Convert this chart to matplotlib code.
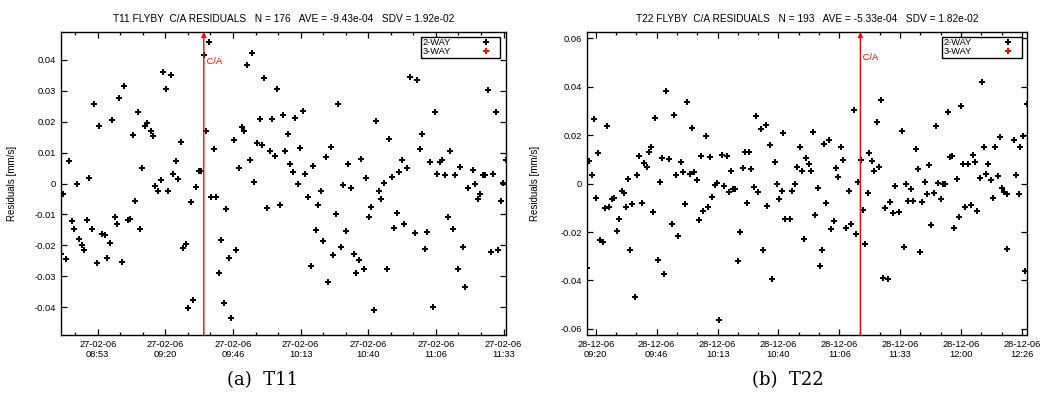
import math
import numpy as np
import matplotlib
matplotlib.use('Agg')
import matplotlib.pyplot as plt
from matplotlib.lines import Line2D
from matplotlib.ticker import MultipleLocator, AutoMinorLocator, FuncFormatter

# T11 flyby, 27-02-06: minutes after 08:00, residual [mm/s]
t11_min = [38.87, 39.79, 40.97, 42.02, 43.07, 44.13, 45.05, 46.10, 47.15, 48.07,
           49.12, 50.04, 51.23, 52.02, 53.07, 54.00, 55.17, 56.23, 57.15, 58.07,
           58.99, 60.04, 61.09, 61.88, 63.06, 63.85, 65.17, 66.09, 67.14, 68.06,
           69.11, 70.16, 70.95, 71.87, 72.93, 74.24, 75.03, 76.08, 77.00, 78.19,
           78.97, 80.16, 81.08, 82.13, 82.92, 84.10, 85.16, 86.08, 86.99, 88.05,
           89.10, 90.02, 91.07, 92.13, 93.18, 94.10, 95.15, 96.20, 97.12, 98.04,
           99.20, 100.00, 101.07, 101.99, 103.17, 104.09, 105.14, 106.07, 107.25, 108.04,
           109.22, 110.27, 111.19, 112.11, 113.17, 114.09, 115.14, 116.06, 117.24, 118.16,
           119.08, 120.14, 121.06, 122.11, 123.03, 124.08, 125.13, 126.18, 126.97, 128.16,
           128.95, 130.13, 131.05, 132.23, 133.02, 134.21, 135.13, 136.31, 137.23, 138.15,
           139.20, 140.12, 141.17, 142.10, 143.15, 144.20, 145.12, 146.17, 147.22, 148.14,
           149.20, 150.10, 151.30, 152.08, 153.14, 154.19, 155.25, 156.17, 157.08, 158.27,
           159.19, 160.24, 161.16, 162.21, 163.13, 164.32, 165.10, 166.29, 167.21, 168.26,
           169.18, 170.24, 171.16, 172.21, 173.13, 174.18, 175.10, 176.29, 178.26, 179.31,
           180.23, 181.15, 182.33, 183.25, 184.18, 185.36, 186.15, 187.20, 188.12, 189.17,
           190.09, 191.27, 192.06, 193.25, 194.03, 195.35, 196.27, 197.33, 198.24, 199.16,
           201.14, 202.19, 203.24, 204.17, 205.09, 206.14, 207.19, 208.24, 209.17, 210.22,
           211.26, 212.31, 213.11, 214.30]
t11_res = [-0.0229, -0.0035, -0.0245, 0.0072, -0.0121, -0.0147, 0.0000, -0.0179, -0.0199, -0.0216,
           -0.0119, 0.0019, -0.0146, 0.0257, -0.0256, 0.0186, -0.0162, -0.0165, -0.0241, -0.0191,
           0.0205, -0.0107, -0.0132, 0.0277, -0.0254, 0.0315, -0.0119, -0.0115, 0.0158, -0.0058,
           0.0232, -0.0148, 0.0049, 0.0186, 0.0197, 0.0170, 0.0155, -0.0009, -0.0025, 0.0011,
           0.0360, 0.0306, -0.0024, 0.0351, 0.0032, 0.0072, 0.0015, 0.0135, -0.0210, -0.0195,
           -0.0401, -0.0060, -0.0378, -0.0011, 0.0042, 0.0042, 0.0415, 0.0170, 0.0458, -0.0045,
           0.0111, -0.0045, -0.0288, -0.0182, -0.0385, -0.0082, -0.0242, -0.0435, 0.0142, -0.0216,
           0.0049, 0.0183, 0.0171, 0.0382, 0.0076, 0.0423, 0.0005, 0.0131, 0.0210, 0.0124,
           0.0341, -0.0079, 0.0106, 0.0209, 0.0089, 0.0306, -0.0071, 0.0221, 0.0106, 0.0160,
           0.0064, 0.0037, 0.0213, -0.0003, 0.0114, 0.0236, 0.0031, -0.0045, -0.0266, 0.0056,
           -0.0150, -0.0068, -0.0024, -0.0185, 0.0086, -0.0318, 0.0119, -0.0230, -0.0097, 0.0257,
           -0.0206, -0.0005, -0.0153, 0.0063, -0.0013, -0.0229, -0.0289, -0.0246, 0.0078, -0.0277,
           0.0017, -0.0109, -0.0076, -0.0409, 0.0202, -0.0024, -0.0050, 0.0001, -0.0277, 0.0144,
           0.0022, -0.0145, -0.0094, 0.0036, 0.0076, -0.0130, 0.0051, 0.0345, -0.0159, 0.0335,
           0.0112, 0.0160, -0.0211, -0.0156, 0.0069, -0.0400, 0.0232, 0.0032, 0.0070, 0.0076,
           0.0026, -0.0108, 0.0104, -0.0146, 0.0028, -0.0276, 0.0053, -0.0206, -0.0334, -0.0015,
           0.0043, -0.0002, -0.0050, -0.0034, 0.0026, 0.0028, 0.0304, -0.0222, 0.0031, 0.0232,
           -0.0215, -0.0057, 0.0003, 0.0076]

# T22 flyby, 28-12-06: minutes after 09:00, residual [mm/s]
t22_min = [16.04, 17.20, 18.20, 19.25, 20.12, 21.15, 22.02, 23.34, 24.21, 25.09,
           25.97, 26.99, 28.16, 29.33, 30.20, 31.37, 32.39, 33.27, 34.14, 35.17,
           36.04, 37.21, 38.23, 39.11, 40.13, 41.15, 42.32, 43.20, 44.22, 45.24,
           45.97, 47.29, 48.16, 49.04, 50.06, 50.94, 52.10, 53.27, 54.15, 55.17,
           56.19, 57.22, 58.09, 59.26, 60.14, 61.31, 62.18, 63.20, 64.23, 65.25,
           66.12, 67.00, 68.17, 69.34, 70.21, 71.09, 72.11, 73.13, 74.16, 75.18,
           76.20, 77.37, 78.24, 79.27, 80.29, 81.16, 82.19, 83.21, 84.38, 85.25,
           86.13, 87.15, 88.17, 89.20, 90.22, 91.24, 92.26, 93.29, 94.45, 95.19,
           96.20, 97.23, 98.54, 99.42, 100.30, 101.46, 102.20, 103.07, 105.12, 106.14,
           107.16, 108.18, 109.35, 110.37, 111.25, 112.27, 113.29, 114.32, 115.34, 116.20,
           117.38, 118.40, 119.28, 120.16, 121.03, 122.35, 123.22, 124.24, 125.27, 126.29,
           127.31, 128.33, 129.80, 131.11, 131.84, 133.00, 134.03, 135.05, 136.07, 137.09,
           138.12, 139.28, 139.87, 141.04, 142.06, 143.08, 144.10, 144.98, 145.85, 146.88,
           148.05, 149.07, 150.10, 151.11, 153.00, 154.03, 155.05, 155.93, 156.81, 158.12,
           158.85, 160.16, 161.04, 161.92, 162.94, 164.26, 165.13, 166.16, 167.03, 168.20,
           169.08, 170.10, 171.12, 172.14, 173.16, 174.19, 175.06, 176.08, 176.96, 178.13,
           179.01, 180.03, 181.05, 181.93, 183.10, 184.26, 185.14, 186.16, 187.19, 188.21,
           189.08, 190.11, 191.13, 192.00, 193.02, 194.20, 195.07, 196.09, 197.11, 197.99,
           199.01, 200.03, 200.32, 201.05, 203.24, 204.27, 205.29, 206.02, 207.04, 208.07,
           209.08]
t22_res = [-0.0350, 0.0094, 0.0036, 0.0267, -0.0058, 0.0125, -0.0233, -0.0242, -0.0103, 0.0238,
           -0.0098, -0.0063, -0.0058, -0.0194, -0.0147, -0.0029, -0.0040, -0.0098, 0.0019, -0.0274,
           -0.0085, -0.0470, 0.0037, 0.0112, -0.0081, 0.0083, 0.0070, 0.0128, 0.0149, -0.0117,
           0.0270, -0.0314, 0.0008, 0.0105, -0.0372, 0.0383, 0.0103, -0.0167, 0.0284, 0.0036,
           -0.0216, 0.0090, 0.0048, -0.0083, 0.0338, 0.0040, 0.0231, 0.0048, 0.0015, -0.0152,
           0.0114, -0.0112, 0.0198, -0.0098, 0.0110, -0.0054, -0.0006, 0.0004, -0.0563, 0.0116,
           -0.0010, 0.0112, -0.0037, 0.0051, -0.0021, -0.0023, -0.0321, -0.0201, 0.0062, 0.0132,
           -0.0079, 0.0132, 0.0058, -0.0014, 0.0280, -0.0033, 0.0223, -0.0276, 0.0242, -0.0091,
           0.0160, -0.0393, 0.0087, -0.0004, -0.0063, -0.0032, 0.0208, -0.0145, -0.0147, -0.0029,
           0.0000, 0.0068, 0.0152, 0.0051, -0.0229, 0.0107, 0.0080, 0.0051, 0.0211, -0.0128,
           -0.0018, -0.0342, -0.0276, 0.0163, -0.0080, 0.0180, -0.0189, -0.0153, 0.0066, 0.0026,
           0.0152, 0.0096, -0.0182, -0.0029, -0.0165, 0.0302, -0.0207, 0.0007, 0.0098, -0.0109,
           -0.0249, -0.0039, 0.0127, 0.0092, 0.0051, 0.0255, 0.0068, 0.0346, -0.0388, -0.0102,
           -0.0393, -0.0077, -0.0121, -0.0010, -0.0116, 0.0218, -0.0263, 0.0000, -0.0072, -0.0022,
           -0.0072, 0.0143, 0.0058, -0.0281, -0.0077, 0.0008, -0.0044, 0.0076, -0.0171, -0.0039,
           0.0238, 0.0004, -0.0062, 0.0000, 0.0000, 0.0296, 0.0109, 0.0114, -0.0185, 0.0019,
           -0.0138, 0.0321, 0.0080, -0.0096, 0.0080, -0.0089, 0.0118, 0.0087, -0.0112, 0.0022,
           0.0420, 0.0152, 0.0040, 0.0079, 0.0015, -0.0059, 0.0149, 0.0029, 0.0192, -0.0017,
           -0.0037, -0.0045, -0.0270, 0.0525, 0.0178, 0.0036, -0.0044, 0.0150, 0.0197, -0.0360,
           0.0328]

# closest approach, minutes after the base hour
ca_t11 = 95.15
ca_t22 = 135.93

titles = ['T11 FLYBY  C/A RESIDUALS   N = 176   AVE = -9.43e-04   SDV = 1.92e-02',
          'T22 FLYBY  C/A RESIDUALS   N = 193   AVE = -5.33e-04   SDV = 1.82e-02']
captions = ['(a)  T11', '(b)  T22']
dates = ['27-02-06', '28-12-06']
base_hours = [8, 9]

FONT = 'Liberation Sans'
FS = 6.7


def time_formatter(date):
    def fmt(x, pos):
        s = int(round(x * 60))
        return '{}\n{:02}:{:02}'.format(date, s // 3600, (s % 3600) // 60)
    return FuncFormatter(fmt)


def res_formatter(v, pos):
    return '%g' % (round(v, 6) + 0.0)


def plot_panel(ax, tmin, res, ca, base, date, title, ystep, ylim, ca_label_y):
    x = base * 60 + np.array(tmin)
    y = np.array(res)
    ax.plot(x, y, linestyle='none', marker='+', color='black', ms=4.8, mew=1.45)
    ax.set_xlim(x.min(), x.max())
    ax.set_ylim(-ylim, ylim)

    ax.xaxis.set_major_locator(MultipleLocator(80 / 3))
    ax.xaxis.set_minor_locator(AutoMinorLocator(3))
    ax.xaxis.set_major_formatter(time_formatter(date))
    ax.yaxis.set_major_locator(MultipleLocator(ystep))
    ax.yaxis.set_major_formatter(FuncFormatter(res_formatter))
    ax.tick_params(which='both', direction='in', top=True, right=True,
                   labelsize=FS, width=0.9, pad=3.5)
    ax.tick_params(which='major', length=4)
    ax.tick_params(which='minor', length=2)
    for lab in ax.get_xticklabels() + ax.get_yticklabels():
        lab.set_fontfamily(FONT)
    for sp in ax.spines.values():
        sp.set_linewidth(1.0)

    ax.set_title(title, fontsize=7.3, family=FONT, pad=7.5)
    ax.set_ylabel('Residuals [mm/s]', fontsize=7.0, family=FONT)

    # closest approach marker
    cx = base * 60 + ca
    ax.annotate('', xy=(cx, ylim), xytext=(cx, -ylim), annotation_clip=False,
                arrowprops=dict(arrowstyle='-|>', color='red', lw=1.0,
                                mutation_scale=7, shrinkA=0, shrinkB=0))
    ax.text(cx, ca_label_y, ' C/A', color='red', fontsize=FS, family=FONT,
            ha='left', va='center')

    handles = [Line2D([], [], linestyle='none', marker='+', color='black', ms=4.8, mew=1.45),
               Line2D([], [], linestyle='none', marker='+', color='red', ms=4.8, mew=1.45)]
    leg = ax.legend(handles, ['2-WAY', '3-WAY'], loc='upper right', markerfirst=False,
                    bbox_to_anchor=(0.987, 0.985), borderaxespad=0.0,
                    fancybox=False, framealpha=1, edgecolor='black',
                    prop={'family': FONT, 'size': FS},
                    borderpad=0.2, labelspacing=0.0, handlelength=2.6,
                    handletextpad=2.5)
    leg.get_frame().set_linewidth(1.0)


fig = plt.figure(figsize=(10.47, 3.94), dpi=100)
ax1 = fig.add_axes([0.0583, 0.1497, 0.425, 0.769])
ax2 = fig.add_axes([0.5604, 0.1497, 0.4208, 0.769])

plot_panel(ax1, t11_min, t11_res, ca_t11, base_hours[0], dates[0], titles[0],
           0.01, 0.049, 0.0395)
plot_panel(ax2, t22_min, t22_res, ca_t22, base_hours[1], dates[1], titles[1],
           0.02, 0.0625, 0.052)
ax1.yaxis.set_label_coords(-0.099, 0.5)
ax2.yaxis.set_label_coords(-0.106, 0.5)

fig.text(0.251, 0.035, captions[0], ha='center', va='center',
         family='DejaVu Serif', fontsize=13)
fig.text(0.752, 0.035, captions[1], ha='center', va='center',
         family='DejaVu Serif', fontsize=13)

fig.savefig('out.png', dpi=100)
